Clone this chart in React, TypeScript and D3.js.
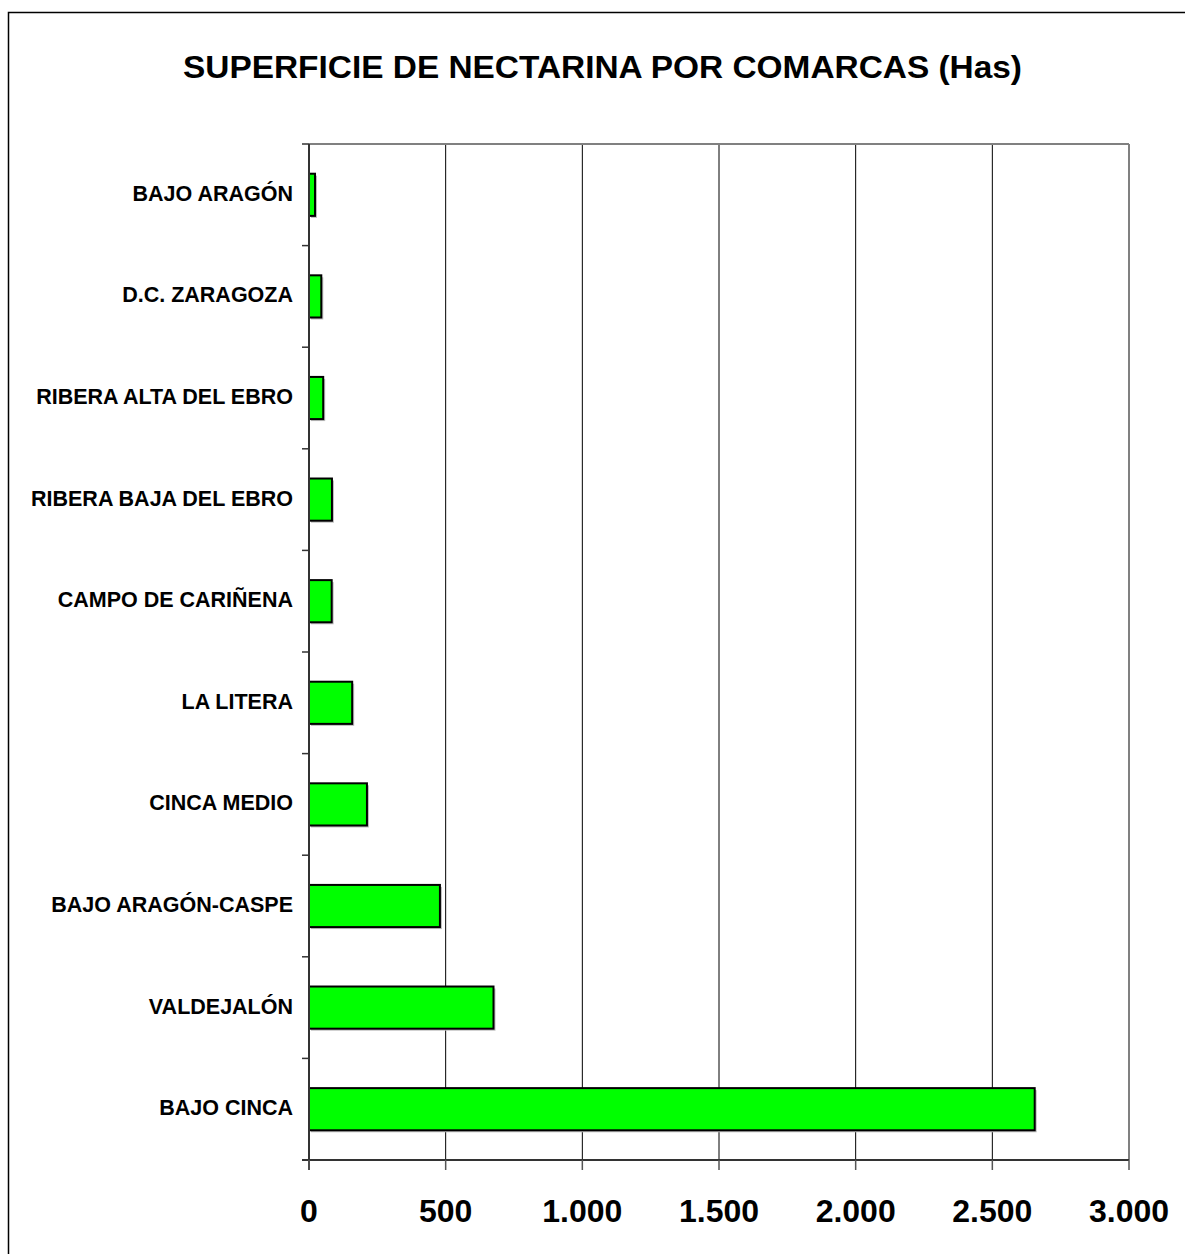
import React from "react";
import * as d3 from "d3";

const categories = [
  "BAJO ARAGÓN",
  "D.C. ZARAGOZA",
  "RIBERA ALTA DEL EBRO",
  "RIBERA BAJA DEL EBRO",
  "CAMPO DE CARIÑENA",
  "LA LITERA",
  "CINCA MEDIO",
  "BAJO ARAGÓN-CASPE",
  "VALDEJALÓN",
  "BAJO CINCA",
];
const values = [22, 45, 52, 84, 83, 158, 212, 479, 675, 2655];
const xTicks = [0, 500, 1000, 1500, 2000, 2500, 3000];
const title = "SUPERFICIE DE NECTARINA POR COMARCAS (Has)";

const fmt = (v: number) => d3.format(",")(v).replace(/,/g, ".");

export default function App() {
  const W = 1185, H = 1254;
  const left = 309, right = 1129, top = 144, bottom = 1160;
  const x = d3.scaleLinear().domain([0, 3000]).range([left, right]);
  const y = d3.scaleBand<string>().domain(categories).range([top, bottom]).paddingInner(0).paddingOuter(0);
  const bw = y.bandwidth();
  const barH = bw * 0.415;
  const font = "'Liberation Sans', Arial, sans-serif";
  return (
    <svg width={W} height={H} style={{ position: "absolute", left: 0, top: 0, display: "block" }}>
      <rect x={0} y={0} width={W} height={H} fill="#fff" />
      <rect x={8.5} y={12.5} width={W + 10} height={H + 10} fill="none" stroke="#000" strokeWidth={1.5} />
      <text x={183} y={78} textLength={839} lengthAdjust="spacingAndGlyphs" fontFamily={font} fontWeight="bold" fontSize={32} fill="#000">
        {title}
      </text>
      {/* gridlines */}
      {xTicks.slice(1, -1).map((t) => (
        <line key={"g" + t} x1={x(t)} x2={x(t)} y1={top} y2={bottom} stroke="#000" strokeWidth={1} />
      ))}
      {/* plot border top/right */}
      <line x1={left} x2={right} y1={top} y2={top} stroke="#808080" strokeWidth={2} />
      <line x1={right} x2={right} y1={top} y2={bottom} stroke="#808080" strokeWidth={2} />
      {/* bars */}
      {categories.map((c, i) => {
        const yc = (y(c) as number) + bw / 2;
        return (
          <g key={c}>
            <rect x={x(0) + 2} y={yc - barH / 2 + 2} width={x(values[i]) - x(0)} height={barH} fill="#bdbdbd" />
            <rect x={x(0)} y={yc - barH / 2} width={x(values[i]) - x(0)} height={barH} fill="#00ff00" stroke="#000" strokeWidth={2} />
          </g>
        );
      })}
      {/* axes */}
      <line x1={left} x2={left} y1={top} y2={bottom + 10} stroke="#333" strokeWidth={2} />
      <line x1={left - 7} x2={right} y1={bottom} y2={bottom} stroke="#333" strokeWidth={2} />
      {categories.map((c) => (
        <line key={"yt" + c} x1={left - 7} x2={left} y1={y(c) as number} y2={y(c) as number} stroke="#333" strokeWidth={1.5} />
      ))}
      {xTicks.map((t) => (
        <line key={"xt" + t} x1={x(t)} x2={x(t)} y1={bottom} y2={bottom + 10} stroke="#555" strokeWidth={1.5} />
      ))}
      {categories.map((c) => (
        <text key={"yl" + c} x={293} y={(y(c) as number) + bw / 2 + 6} textAnchor="end" fontFamily={font} fontWeight="bold" fontSize={21.5} fill="#000">
          {c}
        </text>
      ))}
      {xTicks.map((t) => (
        <text key={"xl" + t} x={x(t)} y={1222} textAnchor="middle" fontFamily={font} fontWeight="bold" fontSize={32} fill="#000">
          {fmt(t)}
        </text>
      ))}
    </svg>
  );
}
